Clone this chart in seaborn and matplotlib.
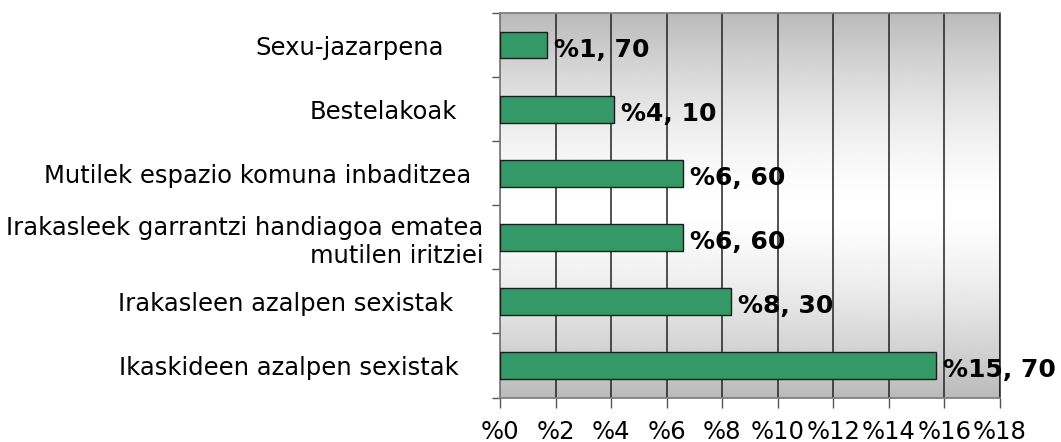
import numpy as np
import matplotlib
matplotlib.use("Agg")
import matplotlib.pyplot as plt
import matplotlib.transforms as mtransforms
import seaborn as sns

# --- datos ---
categories = [
    "Sexu-jazarpena",
    "Bestelakoak",
    "Mutilek espazio komuna inbaditzea",
    "Irakasleek garrantzi handiagoa ematea\nmutilen iritziei",
    "Irakasleen azalpen sexistak",
    "Ikaskideen azalpen sexistak",
]
values = [1.70, 4.10, 6.60, 6.60, 8.30, 15.70]
value_labels = ["%1, 70", "%4, 10", "%6, 60", "%6, 60", "%8, 30", "%15, 70"]
x_ticks = [0, 2, 4, 6, 8, 10, 12, 14, 16, 18]
x_tick_labels = ["%" + str(t) for t in x_ticks]

# desplazamiento extra de cada etiqueta (px), como en el original
label_shift = [39, 26, 12, 0, 30, 25]

sns.set_style("white")
plt.rcParams["font.family"] = "sans-serif"
plt.rcParams["font.sans-serif"] = ["DejaVu Sans"]
plt.rcParams["text.color"] = "black"
plt.rcParams["xtick.labelcolor"] = "black"
plt.rcParams["ytick.labelcolor"] = "black"

fig = plt.figure(figsize=(10.61, 4.42), dpi=100)
ax = fig.add_axes([500 / 1061, 1 - 397.5 / 442, 500 / 1061, 384.5 / 442])

# fondo degradado gris-blanco-gris
grad = np.abs(np.linspace(-1, 1, 256)) ** 1.5
grad = 1 - 0.27 * grad
ax.imshow(grad[:, None], extent=(0, 1, 0, 1), transform=ax.transAxes,
          cmap="gray", vmin=0, vmax=1, aspect="auto", zorder=0,
          interpolation="bilinear")

sns.barplot(x=values, y=categories, orient="h", color="#339966",
            edgecolor="#1a1a1a", linewidth=1, width=0.42, saturation=1,
            ax=ax, zorder=3)

ax.set_xlim(0, 18)
ax.set_ylim(5.5, -0.5)
ax.set_xticks(x_ticks)
ax.set_xticklabels(x_tick_labels, fontsize=17.5, color="black")
ax.set_yticklabels(categories, fontsize=17.5, color="black")
ax.set_xlabel("")
ax.set_ylabel("")

ax.set_axisbelow(True)
ax.xaxis.grid(True, color="#222222", linewidth=1.1, zorder=1)
ax.yaxis.grid(False)

ax.set_yticks(np.arange(-0.5, 6, 1), minor=True)
ax.tick_params(axis="y", which="major", length=0, pad=12)
ax.tick_params(axis="y", which="minor", length=6, width=1, color="#555555",
               direction="out", left=True)
ax.tick_params(axis="x", length=7, width=1, color="#555555",
               direction="out", pad=9, bottom=True)

for lbl, s in zip(ax.get_yticklabels(), label_shift):
    off = mtransforms.ScaledTranslation(-s / 100, 0, fig.dpi_scale_trans)
    lbl.set_transform(lbl.get_transform() + off)

for side in ["left", "bottom", "top", "right"]:
    ax.spines[side].set_visible(True)
    ax.spines[side].set_color("#808080")
    ax.spines[side].set_linewidth(1.3)
ax.spines["right"].set_color("#222222")
ax.spines["right"].set_linewidth(1.1)

for i, (v, txt) in enumerate(zip(values, value_labels)):
    ax.annotate(txt, xy=(v, i), xytext=(7, -5), textcoords="offset pixels",
                ha="left", va="center", fontsize=18, fontweight="bold",
                color="black", zorder=5, annotation_clip=False)

fig.savefig("out.png", dpi=100)
plt.close(fig)
